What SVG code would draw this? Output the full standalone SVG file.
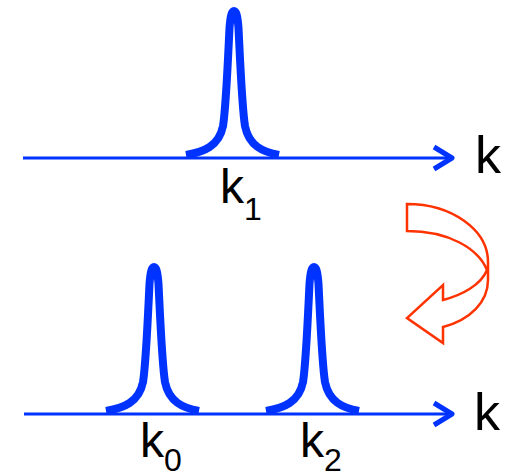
<svg xmlns="http://www.w3.org/2000/svg" xmlns:xlink="http://www.w3.org/1999/xlink" width="513" height="475" viewBox="0 0 513 475">
<style>
.axis{stroke:#0033ff;stroke-width:3;fill:none}
.head{stroke:#0033ff;stroke-width:5;fill:none;stroke-linejoin:round;stroke-linecap:butt}
.peak{stroke:#0033ff;stroke-width:8;fill:none;stroke-linejoin:round;stroke-linecap:butt}
.lbl{font-family:"Liberation Sans",Arial,sans-serif;fill:#000}
.turn{stroke:#ff3300;stroke-width:2.5;fill:#fff;stroke-linejoin:miter}
</style>
<defs>
<path id="peakShape" d="M-48,-3 C-30,-6 -15,-12 -11,-32 C-8,-50 -6,-100 -4.5,-130 C-3.5,-143 -2,-147 0,-147 C2,-147 3.5,-143 4.5,-130 C6,-100 8,-50 11,-32 C15,-12 29,-6 45,-3"/>
</defs>
<g id="connectors">
<g id="axis-top">
<line class="axis" x1="23" y1="158" x2="451" y2="158"/>
<polyline class="head" points="434,147 452,158 434,169"/>
</g>
<g id="axis-bottom">
<line class="axis" x1="24" y1="414" x2="451" y2="414"/>
<polyline class="head" points="434,403 452,414 434,425"/>
</g>
<g id="turn-arrow">
<path class="turn" d="M407,204 C452,204 488,230 488,262 L488,280 C488,302 470,320 443,327 L443,343 L407,318 L443,285 L443,300 C462,295 481,285 487,270 C478,248 448,231 407,231 Z"/>
</g>
</g>
<g id="peak-k1">
<use xlink:href="#peakShape" class="peak" transform="translate(234,158)"/>
<text class="lbl" x="220" y="203" font-size="48">k<tspan font-size="32" dy="17">1</tspan></text>
</g>
<g id="peak-k0">
<use xlink:href="#peakShape" class="peak" transform="translate(154,414)"/>
<text class="lbl" x="140" y="457" font-size="48">k<tspan font-size="32" dy="14">0</tspan></text>
</g>
<g id="peak-k2">
<use xlink:href="#peakShape" class="peak" transform="translate(314,414)"/>
<text class="lbl" x="300" y="457" font-size="48">k<tspan font-size="32" dy="14">2</tspan></text>
</g>
<g id="label-k-top">
<text class="lbl" x="475" y="173" font-size="52">k</text>
</g>
<g id="label-k-bottom">
<text class="lbl" x="474" y="430" font-size="52">k</text>
</g>
</svg>
